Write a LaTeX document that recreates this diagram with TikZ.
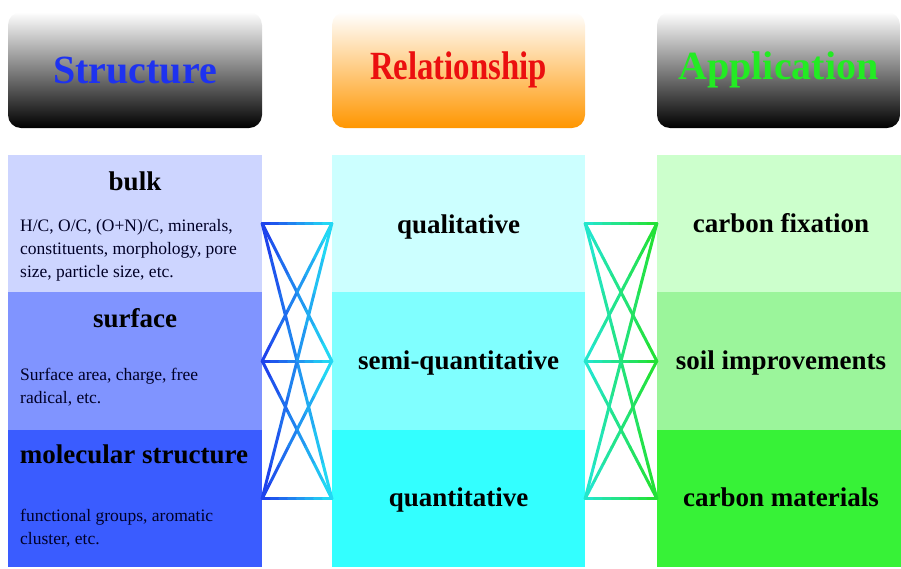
\documentclass[tikz,border=0pt]{standalone}
\usepackage{fontspec}
\setmainfont{Liberation Serif}
\usetikzlibrary{calc}

\definecolor{bulkbg}{RGB}{205,213,255}
\definecolor{surfbg}{RGB}{128,148,255}
\definecolor{molbg}{RGB}{58,92,255}
\definecolor{qualbg}{RGB}{204,255,255}
\definecolor{semibg}{RGB}{128,255,255}
\definecolor{quantbg}{RGB}{51,255,255}
\definecolor{fixbg}{RGB}{204,255,204}
\definecolor{soilbg}{RGB}{155,245,155}
\definecolor{matbg}{RGB}{55,242,55}
\definecolor{structtxt}{RGB}{30,50,240}
\definecolor{reltxt}{RGB}{235,15,15}
\definecolor{apptxt}{RGB}{35,235,35}
\definecolor{relorange}{RGB}{255,150,0}
\definecolor{linkblue}{RGB}{30,55,235}
\definecolor{linkcyan}{RGB}{35,225,245}
\definecolor{linkteal}{RGB}{35,230,215}
\definecolor{linkgreen}{RGB}{35,225,45}

\tikzset{
  cell/.style={rectangle, inner sep=0pt, minimum height=137.5pt},
  head/.style={rectangle, rounded corners=13pt, inner sep=0pt, minimum height=116pt,
    font=\fontsize{40}{44}\selectfont\bfseries},
  title/.style={inner sep=0pt, font=\fontsize{27}{30}\selectfont\bfseries},
  desc/.style={anchor=north west, align=left, inner sep=0pt,
    font=\fontsize{17.5}{23}\selectfont, text=black!85!blue},
  link/.style={line width=3pt, line cap=round}
}

% gradient connector, drawn in short pieces
\newcommand\gradlink[4]{%
  \foreach \k in {0,...,7}{%
    \pgfmathsetmacro\fa{\k/8}%
    \pgfmathsetmacro\fb{(\k+1)/8}%
    \pgfmathtruncatemacro\mx{100-(\k+0.5)*12.5}%
    \draw[link, #3!\mx!#4] ($(#1)!\fa!(#2)$) -- ($(#1)!\fb!(#2)$);
  }%
}

\begin{document}
\begin{tikzpicture}[x=1pt, y=-1pt]
  \useasboundingbox (0,0) rectangle (901,568);

  % headers
  \node[head, minimum width=254pt, top color=white, middle color=black!22, bottom color=black,
    text=structtxt] (hstruct) at (135,70) {Structure};
  \node[head, minimum width=253pt, top color=white, middle color=relorange!30, bottom color=relorange,
    text=reltxt] (hrel) at (458.5,70) {\scalebox{0.82}[1]{Relationship}};
  \node[head, minimum width=243pt, top color=white, middle color=black!22, bottom color=black,
    text=apptxt] (happ) at (778.5,70) {Application};

  % structure column
  \node[cell, minimum width=254pt, fill=bulkbg] (bulk) at (135,223.5) {};
  \node[cell, minimum width=254pt, fill=surfbg] (surf) at (135,361) {};
  \node[cell, minimum width=254pt, fill=molbg] (mol) at (135,498.5) {};
  \node[title] (bulkname) at (135,181) {bulk};
  \node[title] (surfname) at (135,318) {surface};
  \node[title] (molname) at (134,454) {molecular structure};
  \node[desc] (bulkdesc) at (20,219) {H/C, O/C, (O+N)/C, minerals,\\
    constituents, morphology, pore\\ size, particle size, etc.};
  \node[desc] (surfdesc) at (20,368) {Surface area, charge, free\\ radical, etc.};
  \node[desc] (moldesc) at (20,509) {functional groups, aromatic\\ cluster, etc.};

  % relationship column
  \node[cell, minimum width=253pt, fill=qualbg] (qual) at (458.5,223.5) {};
  \node[cell, minimum width=253pt, fill=semibg] (semi) at (458.5,361) {};
  \node[cell, minimum width=253pt, fill=quantbg] (quant) at (458.5,498.5) {};
  \node[title, anchor=base] (qualname) at (458.5,233) {qualitative};
  \node[title, anchor=base] (seminame) at (458.5,369) {semi-quantitative};
  \node[title, anchor=base] (quantname) at (458.5,506) {quantitative};

  % application column
  \node[cell, minimum width=244pt, fill=fixbg] (fix) at (779,223.5) {};
  \node[cell, minimum width=244pt, fill=soilbg] (soil) at (779,361) {};
  \node[cell, minimum width=244pt, fill=matbg] (mat) at (779,498.5) {};
  \node[title, anchor=base] (fixname) at (781,232) {carbon fixation};
  \node[title, anchor=base] (soilname) at (781,369) {soil improvements};
  \node[title, anchor=base] (matname) at (781,506) {carbon materials};

  % connectors
  \foreach \l in {bulk,surf,mol}
    \foreach \m in {qual,semi,quant}
      \gradlink{\l.east}{\m.west}{linkblue}{linkcyan};
  \foreach \m in {qual,semi,quant}
    \foreach \r in {fix,soil,mat}
      \gradlink{\m.east}{\r.west}{linkteal}{linkgreen};
\end{tikzpicture}
\end{document}
